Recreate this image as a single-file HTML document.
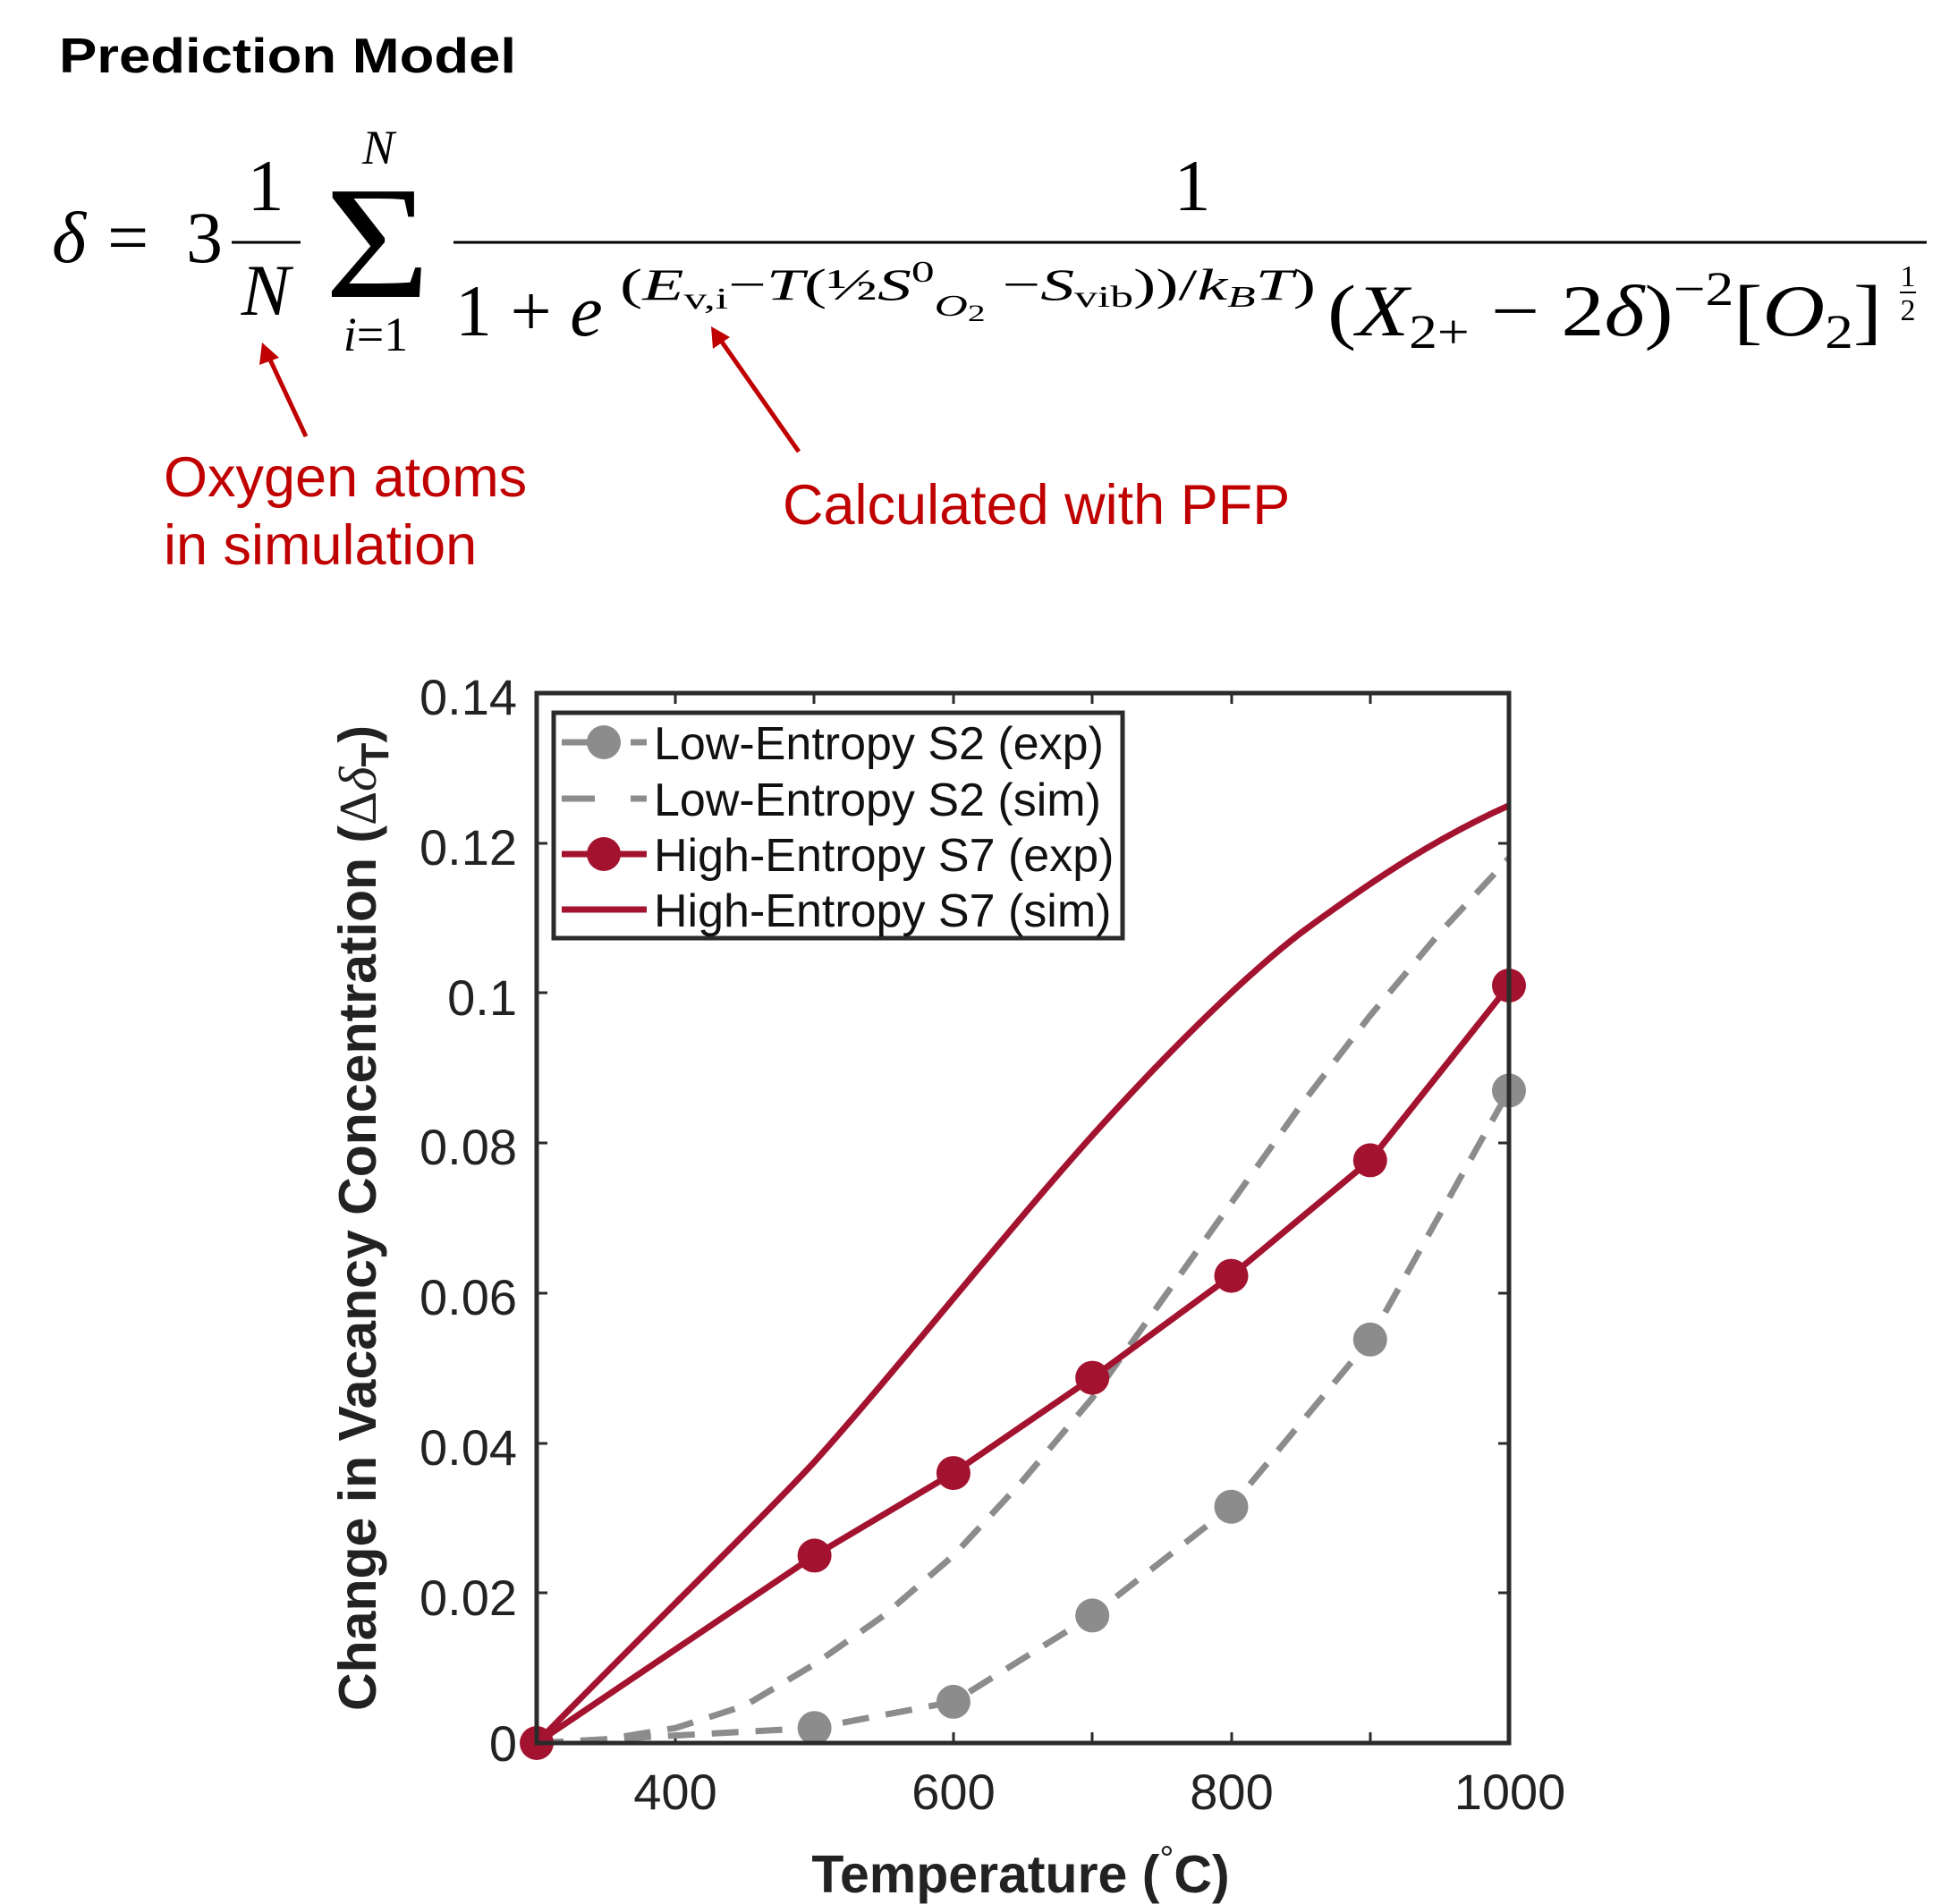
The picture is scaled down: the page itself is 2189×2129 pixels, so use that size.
<!DOCTYPE html>
<html><head><meta charset="utf-8"><style>
html,body{margin:0;padding:0;background:#fff;}
svg{display:block;}
</style></head><body>
<svg width="2189" height="2129" viewBox="0 0 2189 2129" xmlns="http://www.w3.org/2000/svg">
<rect width="2189" height="2129" fill="#fff"/>
<text x="66" y="81" font-family="Liberation Sans, sans-serif" font-weight="bold" font-size="55" fill="#000" textLength="511" lengthAdjust="spacingAndGlyphs">Prediction Model</text>

<g font-family="Liberation Serif, serif" fill="#000">
  <text x="58" y="293" font-size="82" font-style="italic">δ</text>
  <text x="120" y="293" font-size="82">=</text>
  <text x="208" y="293" font-size="82">3</text>
  <line x1="259" y1="271" x2="336" y2="271" stroke="#000" stroke-width="3"/>
  <text x="297" y="235" font-size="82" text-anchor="middle">1</text>
  <text x="297" y="352" font-size="82" font-style="italic" text-anchor="middle">N</text>
  <text x="363" y="332" font-size="180" textLength="118" lengthAdjust="spacingAndGlyphs">Σ</text>
  <text x="423" y="183" font-size="54" font-style="italic" text-anchor="middle">N</text>
  <text x="420" y="392" font-size="54" text-anchor="middle"><tspan font-style="italic">i</tspan>=1</text>
  <line x1="507" y1="271" x2="2154" y2="271" stroke="#000" stroke-width="3"/>
  <text x="1333" y="235" font-size="82" text-anchor="middle">1</text>
  <text x="509" y="375" font-size="82">1 + <tspan font-style="italic">e</tspan></text>
  <text x="693" y="335" font-size="50" textLength="778" lengthAdjust="spacingAndGlyphs">(<tspan font-style="italic">E</tspan><tspan font-size="34" dy="10">v,i</tspan><tspan dy="-10">−</tspan><tspan font-style="italic">T</tspan>(½<tspan font-style="italic">S</tspan><tspan font-size="34" dy="-20">0</tspan><tspan font-size="34" dy="38" font-style="italic">O</tspan><tspan font-size="26" dy="6">2</tspan><tspan dy="-24"> −</tspan><tspan font-style="italic">S</tspan><tspan font-size="34" dy="8">vib</tspan><tspan dy="-8">))/</tspan><tspan font-style="italic">k</tspan><tspan font-size="34" font-style="italic" dy="8">B</tspan><tspan font-style="italic" dy="-8">T</tspan>)</text>
  <text x="1484" y="375" font-size="82" textLength="620" lengthAdjust="spacingAndGlyphs">(<tspan font-style="italic">X</tspan><tspan font-size="54" dy="14">2+</tspan><tspan dy="-14"> − 2</tspan><tspan font-style="italic">δ</tspan>)<tspan font-size="54" dy="-34">−2</tspan><tspan dy="34">[</tspan><tspan font-style="italic">O</tspan><tspan font-size="54" dy="14">2</tspan><tspan dy="-14">]</tspan></text>
  <text x="2133" y="320" font-size="34" text-anchor="middle">1</text>
  <line x1="2124" y1="327" x2="2142" y2="327" stroke="#000" stroke-width="2"/>
  <text x="2133" y="358" font-size="34" text-anchor="middle">2</text>
</g>

<g stroke="#C00000" stroke-width="5" fill="#C00000">
  <line x1="342" y1="488" x2="300" y2="398"/>
  <polygon points="293,383 312,400 290,408" stroke="none"/>
  <line x1="893" y1="505" x2="804" y2="378"/>
  <polygon points="795,365 816,377 797,390" stroke="none"/>
</g>
<g font-family="Liberation Sans, sans-serif" font-size="63" fill="#C00000">
  <text x="183" y="555">Oxygen atoms</text>
  <text x="183" y="631">in simulation</text>
  <text x="875" y="586">Calculated with PFP</text>
</g>

<!-- chart -->
<g font-family="Liberation Sans, sans-serif" font-size="56" fill="#222">
  <text x="578" y="799" text-anchor="end">0.14</text>
  <text x="578" y="967" text-anchor="end">0.12</text>
  <text x="578" y="1135" text-anchor="end">0.1</text>
  <text x="578" y="1302" text-anchor="end">0.08</text>
  <text x="578" y="1470" text-anchor="end">0.06</text>
  <text x="578" y="1638" text-anchor="end">0.04</text>
  <text x="578" y="1806" text-anchor="end">0.02</text>
  <text x="578" y="1969" text-anchor="end">0</text>
  <text x="755" y="2023" text-anchor="middle">400</text>
  <text x="1066" y="2023" text-anchor="middle">600</text>
  <text x="1377" y="2023" text-anchor="middle">800</text>
  <text x="1688" y="2023" text-anchor="middle">1000</text>
</g>
<text x="1141" y="2116" font-family="Liberation Sans, sans-serif" font-weight="bold" font-size="59" fill="#222" text-anchor="middle">Temperature (<tspan font-weight="normal" font-size="40" dy="-24">°</tspan><tspan dy="24">C)</tspan></text>
<text transform="translate(420,1362) rotate(-90)" font-family="Liberation Sans, sans-serif" font-weight="bold" font-size="59" fill="#222" text-anchor="middle">Change in Vacancy Concentration (<tspan font-weight="normal" font-family="Liberation Serif, serif">Δ</tspan><tspan font-weight="normal" font-style="italic" font-family="Liberation Serif, serif">δ</tspan><tspan font-size="44" dy="14">T</tspan><tspan dy="-14">)</tspan></text>

<g stroke="#2b2b2b" stroke-width="3">
  <line x1="755" y1="1949" x2="755" y2="1937"/><line x1="910" y1="1949" x2="910" y2="1937"/>
  <line x1="1066" y1="1949" x2="1066" y2="1937"/><line x1="1221" y1="1949" x2="1221" y2="1937"/>
  <line x1="1377" y1="1949" x2="1377" y2="1937"/><line x1="1532" y1="1949" x2="1532" y2="1937"/>
  <line x1="755" y1="775" x2="755" y2="787"/><line x1="910" y1="775" x2="910" y2="787"/>
  <line x1="1066" y1="775" x2="1066" y2="787"/><line x1="1221" y1="775" x2="1221" y2="787"/>
  <line x1="1377" y1="775" x2="1377" y2="787"/><line x1="1532" y1="775" x2="1532" y2="787"/>
  <line x1="600" y1="1781" x2="612" y2="1781"/><line x1="600" y1="1614" x2="612" y2="1614"/>
  <line x1="600" y1="1446" x2="612" y2="1446"/><line x1="600" y1="1278" x2="612" y2="1278"/>
  <line x1="600" y1="1110" x2="612" y2="1110"/><line x1="600" y1="943" x2="612" y2="943"/>
  <line x1="1687" y1="1781" x2="1675" y2="1781"/><line x1="1687" y1="1614" x2="1675" y2="1614"/>
  <line x1="1687" y1="1446" x2="1675" y2="1446"/><line x1="1687" y1="1278" x2="1675" y2="1278"/>
  <line x1="1687" y1="1110" x2="1675" y2="1110"/><line x1="1687" y1="943" x2="1675" y2="943"/>
</g>

<!-- gray sim -->
<polyline fill="none" stroke="#8c8c8c" stroke-width="7" stroke-linejoin="round" stroke-dasharray="30 19" points="600,1949 677.6,1944.8 755.3,1932.2 832.9,1907.1 910.6,1860.9 988.2,1806.4 1065.9,1739.4 1143.5,1655.5 1221.2,1563.2 1298.8,1454.2 1376.5,1345.2 1454.1,1236.2 1531.8,1135.6 1609.4,1043.3 1687,959.5"/>
<!-- gray exp -->
<polyline fill="none" stroke="#8c8c8c" stroke-width="7" stroke-dasharray="30 19" points="600,1949 910.6,1932.2 1065.9,1902.9 1221.2,1806.4 1376.5,1684.8 1531.8,1497.8 1687,1219.4"/>
<g fill="#8c8c8c">
  <circle cx="910.6" cy="1932.2" r="19"/><circle cx="1065.9" cy="1902.9" r="19"/>
  <circle cx="1221.2" cy="1806.4" r="19"/><circle cx="1376.5" cy="1684.8" r="19"/>
  <circle cx="1531.8" cy="1497.8" r="19"/><circle cx="1687" cy="1219.4" r="19"/>
</g>
<!-- red sim -->
<path fill="none" stroke="#a3132f" stroke-width="7" stroke-linejoin="round" d="M600,1949 C700,1846 850,1700 910.6,1634.5 C1000,1535 1120,1383 1221.2,1269.7 C1320,1160 1400,1085 1454.1,1043.3 C1540,980 1610,935 1687,900.7"/>
<!-- red exp -->
<polyline fill="none" stroke="#a3132f" stroke-width="7" points="600,1949 910.6,1739.4 1065.9,1647.1 1221.2,1540.6 1376.5,1426.6 1531.8,1297.4 1687,1102"/>
<g fill="#a3132f">
  <circle cx="600" cy="1949" r="19"/>
  <circle cx="910.6" cy="1739.4" r="19"/><circle cx="1065.9" cy="1647.1" r="19"/>
  <circle cx="1221.2" cy="1540.6" r="19"/><circle cx="1376.5" cy="1426.6" r="19"/>
  <circle cx="1531.8" cy="1297.4" r="19"/><circle cx="1687" cy="1102" r="19"/>
</g>

<rect x="600" y="775" width="1087" height="1174" fill="none" stroke="#2b2b2b" stroke-width="5"/>

<!-- legend -->
<rect x="619" y="797" width="636" height="252" fill="#fff" stroke="#2b2b2b" stroke-width="5"/>
<g stroke-width="7">
  <line x1="628" y1="830" x2="665" y2="830" stroke="#8c8c8c"/>
  <line x1="705" y1="830" x2="723" y2="830" stroke="#8c8c8c"/>
  <circle cx="675" cy="830" r="19" fill="#8c8c8c" stroke="none"/>
  <line x1="628" y1="893" x2="665" y2="893" stroke="#8c8c8c"/>
  <line x1="705" y1="893" x2="723" y2="893" stroke="#8c8c8c"/>
  <line x1="628" y1="955" x2="723" y2="955" stroke="#a3132f"/>
  <circle cx="675" cy="955" r="19" fill="#a3132f" stroke="none"/>
  <line x1="628" y1="1017" x2="723" y2="1017" stroke="#a3132f"/>
</g>
<g font-family="Liberation Sans, sans-serif" font-size="52" fill="#111">
  <text x="731" y="849">Low-Entropy S2 (exp)</text>
  <text x="731" y="912">Low-Entropy S2 (sim)</text>
  <text x="731" y="974">High-Entropy S7 (exp)</text>
  <text x="731" y="1036">High-Entropy S7 (sim)</text>
</g>
</svg>
</body></html>
